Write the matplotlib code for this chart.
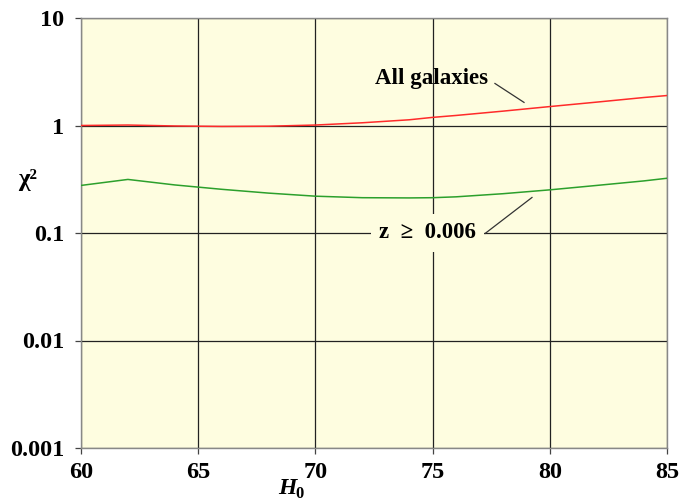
import matplotlib
matplotlib.use("Agg")
import matplotlib.pyplot as plt
from matplotlib.ticker import FixedLocator, FixedFormatter, NullLocator

h0 = [60, 62, 64, 66, 68, 70, 72, 74, 75, 76, 78, 80, 82, 84, 85]
chi_all = [1.0, 1.01, 0.99, 0.98, 0.985, 1.01, 1.06, 1.13, 1.19, 1.24, 1.36, 1.5, 1.65, 1.82, 1.9]
chi_z = [0.277, 0.315, 0.28, 0.255, 0.235, 0.22, 0.213, 0.212, 0.213, 0.217, 0.232, 0.252, 0.277, 0.305, 0.323]

xticks = [60, 65, 70, 75, 80, 85]
yticks = [0.001, 0.01, 0.1, 1, 10]
ylabels = ["0.001", "0.01", "0.1", "1", "10"]

plt.rcParams['font.family'] = ['Liberation Serif', 'DejaVu Serif']

fig = plt.figure(figsize=(6.83, 5.04), dpi=100)
ax = fig.add_axes([81/683, 1-448/504, (667-81)/683, (448-18)/504])
ax.set_facecolor('#fefde0')
ax.set_yscale('log')
ax.set_xlim(60, 85)
ax.set_ylim(0.001, 10)

ax.plot(h0, chi_all, color='#ff2a2a', lw=1.1, zorder=3)
ax.plot(h0, chi_z, color='#2ca02c', lw=1.1, zorder=3)

ax.xaxis.set_major_locator(FixedLocator(xticks))
ax.yaxis.set_major_locator(FixedLocator(yticks))
ax.yaxis.set_major_formatter(FixedFormatter(ylabels))
ax.yaxis.set_minor_locator(NullLocator())
ax.grid(True, color='#222222', lw=0.9, zorder=1)
ax.set_axisbelow(True)
for s in ax.spines.values():
    s.set_color('#888888')
    s.set_linewidth(1.0)
ax.tick_params(axis='both', length=4, width=0.9, color='#444444', direction='out')
ax.tick_params(axis='x', pad=6)
ax.tick_params(axis='y', pad=8)
for lab in ax.get_xticklabels() + ax.get_yticklabels():
    lab.set_fontsize(17.5)
    lab.set_fontweight('bold')

fig.text(28/683, 1-179/504, 'χ²', fontsize=18, fontweight='bold', ha='center', va='center')
fig.text(287/683, 1-489/504, 'H', fontsize=17, fontweight='bold', style='italic', ha='center', va='center')
fig.text(299/683, 1-494/504, '0', fontsize=12, fontweight='bold', ha='center', va='center')

ax.text(74.97, 2.74, 'All galaxies', fontsize=16.5, fontweight='bold', ha='center', va='center', zorder=4)
ax.plot([77.66, 78.9], [2.46, 1.64], color='#333333', lw=0.9, zorder=4)

ax.text(74.8, 0.1, 'z  ≥  0.006', fontsize=16.5, fontweight='bold', ha='center', va='center', zorder=4,
        bbox=dict(boxstyle='square,pad=0.35', facecolor='#fefde0', edgecolor='none'))
ax.plot([77.24, 79.24], [0.099, 0.214], color='#333333', lw=0.9, zorder=4)

fig.savefig('out.png', dpi=100)
